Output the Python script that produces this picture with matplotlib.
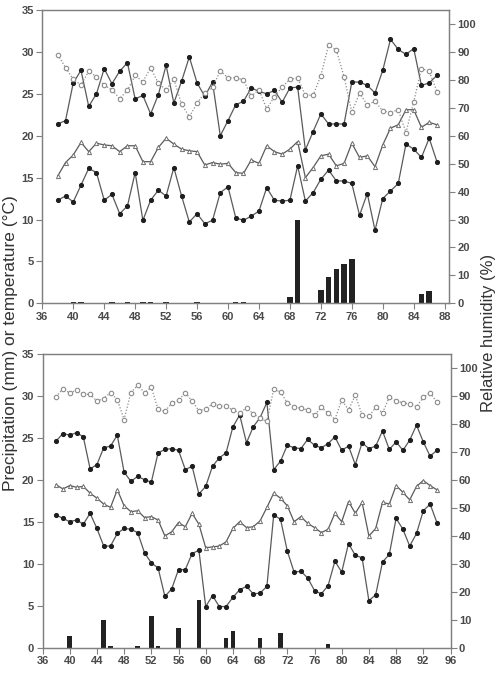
import matplotlib
matplotlib.use("Agg")
import matplotlib.pyplot as plt
import numpy as np

plt.rcParams['font.family'] = ['Liberation Sans', 'DejaVu Sans']

# ---------------- data ----------------
top_days = list(range(38, 88))
top_tmax = [21.4, 21.8, 26.3, 27.8, 23.5, 25.0, 28.0, 26.2, 27.7, 28.7,
            24.4, 24.8, 22.6, 24.9, 28.4, 23.9, 26.5, 29.4, 26.3, 24.7,
            26.4, 20.0, 21.8, 23.7, 24.1, 25.7, 25.3, 25.0, 25.4, 24.0,
            25.7, 25.8, 18.3, 20.5, 22.6, 21.4, 21.4, 21.4, 26.4, 26.4,
            26.0, 25.1, 27.8, 31.5, 30.3, 29.7, 30.4, 26.0, 26.3, 27.2]
top_tmean = [15.2, 16.8, 17.7, 19.2, 18.1, 19.1, 18.9, 18.8, 18.1, 18.8,
             18.8, 16.9, 16.9, 18.6, 19.7, 19.0, 18.4, 18.2, 18.1, 16.5,
             16.8, 16.6, 16.7, 15.6, 15.5, 17.1, 16.7, 18.8, 18.1, 17.8,
             18.4, 19.3, 15.0, 16.2, 17.6, 17.8, 16.4, 16.7, 19.1, 17.4,
             17.6, 16.3, 18.9, 20.9, 21.3, 23.1, 23.1, 21.0, 21.6, 21.3]
top_tmin = [12.3, 12.8, 12.1, 14.1, 16.1, 15.6, 12.3, 13.0, 10.7, 11.6,
            15.6, 9.9, 12.3, 13.5, 12.8, 16.2, 12.8, 9.7, 10.7, 9.5,
            9.9, 13.2, 13.9, 10.2, 9.9, 10.4, 11.0, 13.8, 12.3, 12.2,
            12.3, 16.4, 12.2, 13.2, 14.8, 15.9, 14.6, 14.6, 14.3, 10.5,
            13.1, 8.7, 12.5, 13.4, 14.3, 19.0, 18.4, 17.4, 19.7, 16.9]
top_rh = [89.0, 84.4, 80.2, 78.2, 83.0, 81.1, 78.1, 76.4, 73.3, 76.2,
          81.6, 79.3, 84.3, 78.8, 76.4, 80.2, 71.3, 66.8, 71.6, 75.4,
          77.3, 83.2, 80.7, 80.7, 80.0, 74.1, 76.5, 69.6, 74.0, 77.4,
          80.2, 80.7, 74.5, 74.5, 81.5, 92.5, 90.6, 81.1, 68.4, 75.2,
          71.1, 72.3, 68.9, 68.3, 69.3, 61.1, 72.1, 84.0, 83.1, 75.8]
top_rain_days = [40, 41, 45, 47, 49, 50, 52, 56, 61, 62, 68, 69, 72, 73, 74, 75, 76, 85, 86]
top_rain = [0.2, 0.2, 0.2, 0.2, 0.2, 0.2, 0.2, 0.2, 0.2, 0.2, 0.7, 10.0, 1.6, 3.1, 4.1, 4.65, 5.25, 1.1, 1.5]

bot_days = list(range(38, 95))
bot_tmax = [24.6, 25.5, 25.3, 25.6, 25.1, 21.3, 21.8, 23.8, 24.0, 25.3,
            20.9, 19.8, 20.4, 20.0, 19.7, 23.2, 23.6, 23.7, 23.5, 21.2,
            21.6, 18.3, 19.2, 21.6, 22.6, 23.2, 26.3, 27.7, 24.4, 26.3,
            27.4, 29.2, 21.2, 22.2, 24.1, 23.8, 23.7, 24.8, 24.1, 23.8,
            24.3, 25.1, 23.5, 24.0, 21.8, 24.4, 23.7, 24.0, 25.8, 23.6,
            24.5, 23.5, 24.7, 26.5, 24.5, 22.8, 23.5]
bot_tmean = [19.4, 18.9, 19.3, 19.1, 19.2, 18.4, 17.8, 17.1, 16.7, 18.8,
             16.9, 16.2, 16.3, 15.5, 15.6, 15.2, 13.3, 13.8, 14.9, 14.4,
             16.0, 14.7, 11.9, 12.0, 12.1, 12.6, 14.2, 15.0, 14.3, 14.4,
             15.1, 16.7, 18.4, 17.8, 16.9, 15.0, 15.6, 14.8, 14.3, 13.7,
             14.1, 16.0, 15.0, 17.4, 16.0, 17.3, 13.3, 14.2, 17.3, 17.1,
             19.3, 18.5, 17.6, 19.2, 19.9, 19.3, 18.8]
bot_tmin = [15.8, 15.4, 15.0, 15.2, 14.7, 16.0, 14.2, 12.1, 12.1, 13.6,
            14.2, 14.1, 13.7, 11.3, 10.1, 9.5, 6.1, 7.0, 9.3, 9.3,
            11.2, 11.6, 4.9, 6.2, 4.9, 4.9, 6.0, 6.9, 7.3, 6.4,
            6.5, 7.3, 15.8, 15.3, 11.5, 9.0, 9.1, 8.3, 6.8, 6.4,
            7.4, 10.3, 9.0, 12.4, 11.0, 10.7, 5.6, 6.3, 10.2, 11.1,
            15.4, 14.1, 12.1, 13.6, 16.3, 17.1, 14.9]
bot_rh = [89.6, 92.5, 91.0, 92.0, 90.5, 90.5, 88.1, 89.0, 91.1, 88.6,
          81.5, 91.1, 93.7, 91.1, 93.0, 85.1, 84.4, 87.3, 88.3, 91.1,
          88.1, 84.6, 85.3, 87.1, 86.2, 86.2, 84.9, 83.8, 85.7, 83.5,
          81.9, 80.8, 92.3, 91.3, 87.5, 86.1, 85.5, 84.9, 83.1, 85.8,
          83.9, 81.5, 88.5, 84.9, 90.2, 83.1, 82.6, 85.8, 83.9, 89.4,
          88.1, 87.5, 87.0, 86.1, 89.4, 91.1, 87.7]
bot_rain_days = [40, 45, 46, 50, 52, 53, 56, 59, 63, 64, 68, 71, 78]
bot_rain = [1.35, 3.3, 0.2, 0.2, 3.8, 0.2, 2.3, 5.7, 1.2, 2.0, 1.2, 1.8, 0.5]

left_ticks = [0, 5, 10, 15, 20, 25, 30, 35]
right_ticks = [0, 10, 20, 30, 40, 50, 60, 70, 80, 90, 100]
top_xticks = list(range(36, 89, 4))
bot_xticks = list(range(36, 97, 4))

# ---------------- style ----------------
W, H = 501, 682
fig = plt.figure(figsize=(W / 100, H / 100), dpi=100)
spine_c = '#808080'
tick_c = '#4a4a4a'
line_c = '#5a5a5a'
mk_c = '#1e1e1e'
rh_c = '#8c8c8c'


def panel(rect, days, tmax, tmean, tmin, rh, rdays, rain, xlim, xticks):
    ax = fig.add_axes(rect)
    ax.bar(rdays, rain, width=0.7, color='#222222', zorder=2)
    ax.plot(days, tmax, color=line_c, lw=0.9, marker='o', ms=2.7,
            mfc=mk_c, mec=mk_c, zorder=4)
    ax.plot(days, tmean, color=line_c, lw=0.9, marker='^', ms=3.0,
            mfc='white', mec='#707070', mew=0.7, zorder=4)
    ax.plot(days, tmin, color=line_c, lw=0.9, marker='o', ms=2.7,
            mfc=mk_c, mec=mk_c, zorder=4)
    ax.set_xlim(*xlim)
    ax.set_ylim(0, 35)
    ax.set_xticks(xticks)
    ax.set_yticks(left_ticks)
    ax2 = ax.twinx()
    ax2.plot(days, rh, color=rh_c, lw=0.9, ls=(0, (1, 1.5)), marker='o',
             ms=3.2, mfc='white', mec=rh_c, mew=0.8, zorder=3)
    ax2.set_ylim(0, 105)
    ax2.set_yticks(right_ticks)
    for a in (ax, ax2):
        for s in a.spines.values():
            s.set_color(spine_c)
            s.set_linewidth(0.9)
        a.tick_params(colors=spine_c, labelcolor=tick_c, length=4,
                      width=0.8, labelsize=8, direction='out', pad=2)
        for lab in a.get_xticklabels() + a.get_yticklabels():
            lab.set_fontweight('bold')
    return ax, ax2


ax_t, ax_t2 = panel([42.3 / W, 1 - 303.3 / H, (449.3 - 42.3) / W, 293.3 / H],
                    top_days, top_tmax, top_tmean, top_tmin, top_rh,
                    top_rain_days, top_rain, (36, 88.6), top_xticks)
ax_b, ax_b2 = panel([42.5 / W, 1 - 647.7 / H, (450.5 - 42.5) / W, 294.0 / H],
                    bot_days, bot_tmax, bot_tmean, bot_tmin, bot_rh,
                    bot_rain_days, bot_rain, (36, 96), bot_xticks)

fig.text(11 / W, 1 - 343 / H, 'Precipitation (mm) or temperature (\u00b0C)',
         rotation=90, ha='center', va='center', fontsize=12.5, color='#333333')
fig.text(488 / W, 1 - 333 / H, 'Relative humidity (%)',
         rotation=90, ha='center', va='center', fontsize=12, color='#333333')

fig.savefig('out.png', dpi=100)
